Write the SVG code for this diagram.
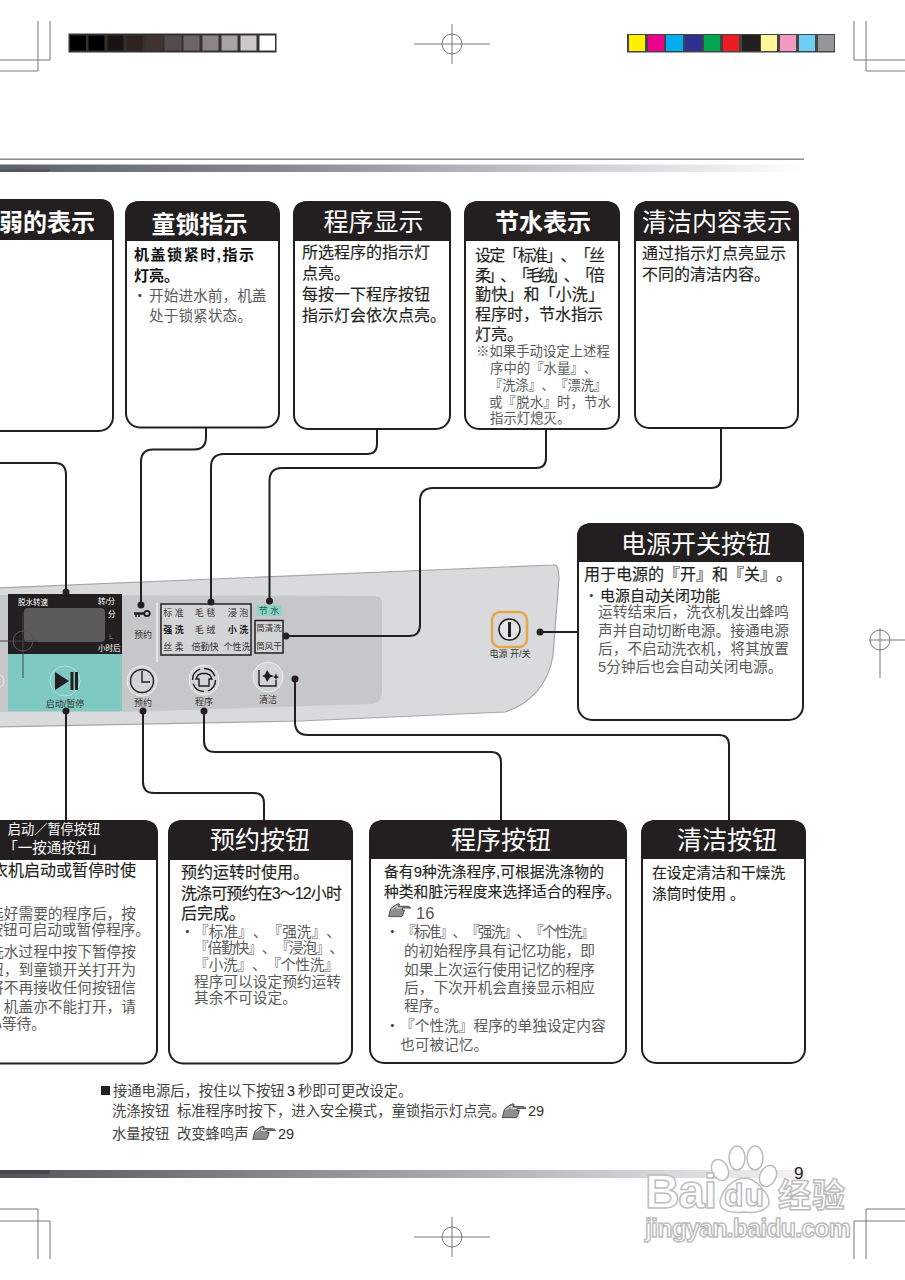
<svg xmlns="http://www.w3.org/2000/svg" width="905" height="1280" viewBox="0 0 905 1280">
<style>
text{font-family:"Liberation Sans","Noto Sans CJK SC",sans-serif;text-spacing-trim:space-all;}
.box{fill:#fff;stroke:#231f20;stroke-width:2}
.hd{fill:#231f20}
.t{fill:#fff;font-size:25px;text-anchor:middle}
.tb{font-weight:700;font-size:24px}
.m{font-size:16px;fill:#231f20;stroke:#231f20;stroke-width:.15}
.mb{font-size:15px;fill:#111;font-weight:700}
.d{font-size:14.7px;fill:#5a5a5a}
.n{font-size:13.4px;fill:#5a5a5a}
.bl{font-size:14.7px;fill:#444}
.e{text-anchor:end}
.mark{fill:none;stroke:#777;stroke-width:1}
.conn{fill:none;stroke:#231f20;stroke-width:2}
.dot{fill:#231f20}
.p{font-size:9px;fill:#333;text-anchor:middle}
.pw{font-size:7.5px;fill:#fff}
.btn{fill:#d3d4d6;stroke:#eef0f0;stroke-width:1}
.ic{fill:none;stroke:#231f20;stroke-width:1.4}
.foot{font-size:14.3px;fill:#444}
.num{font-size:14.5px;fill:#333}
.wm{fill:#fff;stroke:#bdbdbd;stroke-width:1.5}
</style>
<defs>
<linearGradient id="gTop" x1="0" x2="1" y1="0" y2="0"><stop offset="0" stop-color="#5d6268"/><stop offset=".35" stop-color="#868a90"/><stop offset=".7" stop-color="#c9cbce"/><stop offset="1" stop-color="#fff"/></linearGradient>
<linearGradient id="gBot" x1="0" x2="1" y1="0" y2="0"><stop offset="0" stop-color="#50565a"/><stop offset=".35" stop-color="#858a8f"/><stop offset=".7" stop-color="#bfc2c6"/><stop offset="1" stop-color="#f4f4f5"/></linearGradient>
<symbol id="hand" viewBox="0 0 30 18" overflow="visible">
<path d="M1 17.500L3.500 7.500L10 2.500L14 .8L15.500 2.500L13.500 4.200H25Q28.500 4.500 29.500 6.500H19L18.500 9H21.500L20.500 12L19.500 15L18 17.500Z" fill="#8e8e8e" stroke="#333" stroke-width="1"/>
<path d="M4.500 8.500L11 4H13L11.500 6.500H18" fill="none" stroke="#eee" stroke-width="1"/>
</symbol>
</defs>
<rect width="905" height="1280" fill="#fff"/>

<g id="print-marks">
<path class="mark" d="M38 21V71H0M50 21V60H0M854 21V60H905M866 21V71H905M38 1259V1209H0M50 1259V1221H0M866 1259V1209H905M854 1259V1221H905"/>
<path class="mark" d="M414 44H490M452 24V64M414 1237H490M452 1217V1257"/>
<circle class="mark" cx="452" cy="44" r="10"/><circle class="mark" cx="452" cy="1237" r="10"/>
<g stroke="#333" stroke-width="1"><rect x="69" y="34" width="207" height="18" fill="#333"/>
<rect x="69.500" y="35" width="17" height="16" fill="#000"/><rect x="88" y="35" width="17" height="16" fill="#000"/><rect x="107" y="35" width="17" height="16" fill="#1a1310"/><rect x="126" y="35" width="17" height="16" fill="#2e2320"/><rect x="145" y="35" width="18" height="16" fill="#3f3432"/><rect x="164" y="35" width="18" height="16" fill="#544c4a"/><rect x="183" y="35" width="17" height="16" fill="#6f6664"/><rect x="202" y="35" width="17" height="16" fill="#8c8583"/><rect x="221" y="35" width="17" height="16" fill="#a9a4a2"/><rect x="240" y="35" width="17" height="16" fill="#cdc9c8"/><rect x="259" y="35" width="16.500" height="16" fill="#fff"/></g>
<rect x="627" y="34" width="208" height="18.500" fill="#444"/>
<rect x="629" y="35" width="16" height="16" fill="#fff200"/><rect x="648" y="35" width="16" height="16" fill="#ec008c"/><rect x="666" y="35" width="17" height="16" fill="#00aeef"/><rect x="685" y="35" width="17" height="16" fill="#2e3192"/><rect x="704" y="35" width="16" height="16" fill="#00a651"/><rect x="723" y="35" width="16" height="16" fill="#ed1c24"/><rect x="742" y="35" width="18" height="16" fill="#231f20"/><rect x="761" y="35" width="16" height="16" fill="#fff799"/><rect x="780" y="35" width="16" height="16" fill="#f49ac1"/><rect x="799" y="35" width="16" height="16" fill="#6dcff6"/><rect x="818" y="35" width="16" height="16" fill="#939598"/>
<rect x="0" y="158.500" width="804" height="1.500" fill="#8a8a8a"/>
<rect x="0" y="164.500" width="805" height="7.500" fill="url(#gTop)"/>
<rect x="0" y="169" width="50" height="3" fill="#55595d"/>
<rect x="0" y="1170" width="805" height="8" fill="url(#gBot)"/>
<rect x="0" y="1170" width="50" height="4" fill="#44494c"/>
</g>

<g id="panel">
<path d="M-5 588L553 565Q557 564.500 558 569L559 578L553 656C548 685 530 704 505 712L300 721L-5 727Z" fill="#d9dadb" stroke="#a5a6a8" stroke-width="1.2"/>
<path d="M0 595L375 596Q382 596 382 603V692Q382 703 372 704L120 712L0 712Z" fill="#c6c7c9"/>
<path d="M157 603V662" stroke="#eef0f0" stroke-width="1.500"/>
<rect x="8" y="594" width="114" height="60" fill="#231f20"/>
<rect x="8" y="654" width="114" height="57" fill="#7fc9c3"/>
<rect x="24" y="608" width="81" height="34" rx="4" fill="#5b5b5c"/>
<text class="pw" x="18" y="604.500">脱水转速</text><text class="pw" x="98" y="604">转/分</text><text class="pw" x="108" y="617">分</text><text class="pw" x="109" y="639" style="fill:#8b8b8b">L</text><text class="pw" x="98" y="651">小时后</text>
<path d="M0 641H38M23 612V678" stroke="#444" stroke-width="1" fill="none"/><circle cx="23" cy="641" r="10" fill="none" stroke="#555" stroke-width="1"/>
<circle cx="-3" cy="681" r="7" fill="none" stroke="#eee" stroke-width="1"/>

<g id="key-icon"><path d="M134 613.500H144" stroke="#231f20" stroke-width="2.500"/><path d="M136 614V617M139 614V617" stroke="#231f20" stroke-width="1.500"/><circle cx="147" cy="613.500" r="2.700" fill="none" stroke="#231f20" stroke-width="1.800"/></g>
<text class="p" x="143" y="638">预约</text>

<rect x="161" y="604" width="90" height="51" fill="#d3d4d6" stroke="#231f20" stroke-width="1.500"/>
<g class="prog">
<text class="p" x="173.500" y="616">标 准</text><text class="p" x="205" y="616">毛 毯</text><text class="p" x="238" y="616">浸 泡</text>
<text class="p" x="173.500" y="633" style="font-weight:700;fill:#111">强 洗</text><text class="p" x="205" y="633">毛 绒</text><text class="p" x="238" y="633" style="font-weight:700;fill:#111">小 洗</text>
<text class="p" x="173.500" y="650">丝 柔</text><text class="p" x="205" y="650">倍勤快</text><text class="p" x="237" y="650">个性洗</text>
</g>
<rect x="256.500" y="605" width="25" height="11" rx="1" fill="#8fd3c9"/><text class="p" x="269" y="614" style="fill:#1a5c50">节 水</text>
<rect x="255" y="620.500" width="28" height="32.500" fill="#d3d4d6" stroke="#231f20" stroke-width="1.500"/>
<text class="p" x="269" y="630.500" style="font-size:8.500px">筒清洗</text><text class="p" x="269" y="648.500" style="font-size:8.500px">筒风干</text>

<circle cx="65" cy="681" r="15" fill="#7fc9c3" stroke="#b9e2de" stroke-width="1"/>
<path d="M55 672L69 681L55 690Z" fill="#231f20"/><rect x="70.500" y="672" width="3" height="18" fill="#231f20"/><rect x="75" y="672" width="3" height="18" fill="#231f20"/>
<text class="p" x="65" y="706.500">启动/暂停</text>

<circle class="btn" cx="142" cy="681" r="15"/><circle class="ic" cx="142" cy="681" r="11.500"/><path class="ic" d="M142 671V682H150"/>
<text class="p" x="143" y="705.500">预约</text>
<circle class="btn" cx="204" cy="680" r="15"/><circle class="ic" cx="204" cy="680" r="11.500" stroke-dasharray="14 4"/><path class="ic" d="M198 675L201.500 673.500H206.500L210 675L212 679H209V686H199V679H196Z"/>
<text class="p" x="204" y="704.500">程序</text>
<circle class="btn" cx="268" cy="677" r="15"/><path class="ic" d="M259 670V684Q259 686 261 686H276V680"/><path d="M265 670L268 674.500L272 676L268 677.500L265 682L263 677.500L260 676L263 674.500ZM274 673L275 676L277 677L275 678L274 680L273 678L271 677L273 676Z" fill="#231f20" transform="translate(2 0)"/>
<text class="p" x="268" y="702.500">清洁</text>

<rect x="492" y="612" width="35" height="35" rx="8" fill="#d6d7d9" stroke="#e4a74a" stroke-width="2.500"/>
<circle cx="509.500" cy="629.500" r="10.500" fill="#e4e5e6" stroke="#231f20" stroke-width="1.500"/><rect x="508" y="622" width="3" height="15" fill="#231f20"/>
<text class="p" x="510" y="657">电源 开/关</text>
</g>

<g id="connectors">
<path class="conn" d="M206 428V437Q206 449.500 194 449.500H153Q141 449.500 141 462V605"/>
<path class="conn" d="M377 429V444Q377 454 367 454H224Q211 454 211 467V602"/>
<path class="conn" d="M546 429V458Q546 468 536 468H282Q269.500 468 269.500 481V601"/>
<path class="conn" d="M721 428V478Q721 488 711 488H433Q420 488 420 501V625Q420 636 409 636H286"/>
<path class="conn" d="M-2 463H55Q66 463 66 475V592"/>
<path class="conn" d="M66 711V820"/>
<path class="conn" d="M143 711V782Q143 793 154 793H254Q264 793 264 803V820"/>
<path class="conn" d="M204 711V741Q204 752 215 752H491Q501 752 501 762V820"/>
<path class="conn" d="M295 679V722Q295 735 308 735H719Q729 735 729 745V820"/>
<path class="conn" d="M540 632H578"/>
<g class="dot"><circle cx="66" cy="592" r="3.500"/><circle cx="141" cy="605" r="3.500"/><circle cx="211" cy="602" r="3.500"/><circle cx="269.500" cy="601" r="3.500"/><circle cx="286" cy="636" r="3.500"/><circle cx="295" cy="679" r="3.500"/><circle cx="540" cy="632" r="3.500"/><circle cx="66" cy="711" r="3.500"/><circle cx="143" cy="711" r="3.500"/><circle cx="204" cy="711" r="3.500"/></g>
</g>

<g id="node-weak">
<rect class="box" x="-20" y="200" width="133" height="231" rx="14"/><path class="hd" d="M-20 240V212Q-20 199 -6 199H99Q113 199 113 212V240Z"/>
<text class="t tb e" x="95" y="231" style="text-anchor:end">弱的表示</text>
</g>
<g id="node-childlock">
<rect class="box" x="126" y="202" width="153" height="225.500" rx="14"/><path class="hd" d="M125 241V215Q125 201 140 201H265Q280 201 280 215V241Z"/>
<text class="t tb" x="199.500" y="233">童锁指示</text>
<text class="mb" x="134" y="259.500" textLength="120">机盖锁紧时,指示</text><text class="mb" x="134" y="280.500">灯亮。</text>
<text class="bl" x="132.500" y="300.500">・</text><text class="d" x="149" y="300.500">开始进水前，机盖</text><text class="d" x="149" y="321">处于锁紧状态。</text>
</g>
<g id="node-program-display">
<rect class="box" x="294" y="202" width="156" height="227" rx="14"/><path class="hd" d="M293 241V215Q293 201 308 201H436Q451 201 451 215V241Z"/>
<text class="t" x="373.500" y="231">程序显示</text>
<text class="m" x="302" y="258">所选程序的指示灯</text><text class="m" x="302" y="279">点亮。</text><text class="m" x="302" y="300">每按一下程序按钮</text><text class="m" x="302" y="321">指示灯会依次点亮。</text>
</g>
<g id="node-water-save">
<rect class="box" x="465" y="202" width="154" height="227" rx="14"/><path class="hd" d="M464 241V215Q464 201 479 201H605Q620 201 620 215V241Z"/>
<text class="t tb" x="543" y="231">节水表示</text>
<text class="m" x="475" y="261" textLength="130">设定「标准」、「丝</text><text class="m" x="475" y="281" textLength="130">柔」、「毛绒」、「倍</text><text class="m" x="475" y="300" textLength="129">勤快」和「小洗」</text><text class="m" x="475" y="320">程序时，节水指示</text><text class="m" x="475" y="340">灯亮。</text>
<text class="n" x="476" y="356">※如果手动设定上述程</text><text class="n" x="490" y="373">序中的『水量』、</text><text class="n" x="489" y="390" textLength="118">『洗涤』、『漂洗』</text><text class="n" x="489" y="407" textLength="122">或『脱水』时，节水</text><text class="n" x="490" y="423">指示灯熄灭。</text>
</g>
<g id="node-clean-display">
<rect class="box" x="635" y="202" width="163" height="226" rx="14"/><path class="hd" d="M634 241V215Q634 201 649 201H784Q799 201 799 215V241Z"/>
<text class="t" x="717" y="231">清洁内容表示</text>
<text class="m" x="642" y="259">通过指示灯点亮显示</text><text class="m" x="642" y="280">不同的清洁内容。</text>
</g>
<g id="node-power">
<rect class="box" x="578" y="524" width="225" height="196" rx="14"/><path class="hd" d="M577 562V537Q577 523 592 523H789Q804 523 804 537V562Z"/>
<text class="t" x="696" y="553">电源开关按钮</text>
<text class="m" x="584" y="580">用于电源的『开』和『关』。</text>
<text class="bl" x="584" y="601">・</text><text class="m" x="600" y="601" style="font-size:15px">电源自动关闭功能</text>
<text class="d" x="598" y="617">运转结束后，洗衣机发出蜂鸣</text><text class="d" x="598" y="636">声并自动切断电源。接通电源</text><text class="d" x="598" y="654">后，不启动洗衣机，将其放置</text><text class="d" x="598" y="672">5分钟后也会自动关闭电源。</text>
</g>
<g id="node-start">
<rect class="box" x="-20" y="821" width="177" height="242.500" rx="14"/><path class="hd" d="M-21 860V834Q-21 820 -6 820H143Q158 820 158 834V860Z"/>
<text class="t" x="54" y="834" style="font-size:13.200px">启动／暂停按钮</text><text class="t" x="54" y="853" style="font-size:14.500px">「一按通按钮」</text>
<text class="m e" x="136" y="876">洗衣机启动或暂停时使</text>
<text class="d e" x="136" y="918.500">选好需要的程序后，按</text><text class="d e" x="150" y="934.500">按钮可启动或暂停程序。</text>
<text class="d e" x="136" y="957">洗水过程中按下暂停按</text><text class="d e" x="136" y="974.500">钮，到童锁开关打开为</text><text class="d e" x="136" y="993">将不再接收任何按钮信</text><text class="d e" x="136" y="1012">号，机盖亦不能打开，请</text><text class="d e" x="46" y="1028.500">耐心等待。</text>
</g>
<g id="node-timer">
<rect class="box" x="169" y="821" width="183" height="242.500" rx="14"/><path class="hd" d="M168 860V834Q168 820 183 820H338Q353 820 353 834V860Z"/>
<text class="t" x="260" y="849">预约按钮</text>
<text class="m" x="181" y="877.500">预约运转时使用。</text><text class="m" x="181" y="898.500" textLength="161">洗涤可预约在3～12小时</text><text class="m" x="181" y="919">后完成。</text>
<text class="bl" x="180" y="937">・</text><text class="d" x="194" y="937">『标准』、『强洗』、</text><text class="d" x="194" y="953" textLength="150">『倍勤快』、『浸泡』、</text><text class="d" x="194" y="970" textLength="145">『小洗』、『个性洗』</text><text class="d" x="194" y="987">程序可以设定预约运转</text><text class="d" x="194" y="1003">其余不可设定。</text>
</g>
<g id="node-program">
<rect class="box" x="370" y="821" width="256" height="242" rx="14"/><path class="hd" d="M369 859V834Q369 820 384 820H612Q627 820 627 834V859Z"/>
<text class="t" x="501" y="849">程序按钮</text>
<text class="m" x="384" y="877" textLength="220" style="font-size:14.800px">备有9种洗涤程序,可根据洗涤物的</text><text class="m" x="384" y="897" style="font-size:14.800px">种类和脏污程度来选择适合的程序。</text>
<use href="#hand" x="387" y="903" width="25" height="14"/><text class="num" x="416" y="919" style="fill:#555;font-size:16.500px">16</text>
<text class="bl" x="385" y="937">・</text><text class="d" x="401" y="937" textLength="194">『标准』、『强洗』、『个性洗』</text><text class="d" x="404" y="956">的初始程序具有记忆功能，即</text><text class="d" x="404" y="975">如果上次运行使用记忆的程序</text><text class="d" x="404" y="993">后，下次开机会直接显示相应</text><text class="d" x="404" y="1011">程序。</text>
<text class="bl" x="385" y="1031">・</text><text class="d" x="400" y="1031">『个性洗』程序的单独设定内容</text><text class="d" x="400" y="1050">也可被记忆。</text>
</g>
<g id="node-clean">
<rect class="box" x="642" y="821" width="163" height="242" rx="14"/><path class="hd" d="M641 859V834Q641 820 656 820H791Q806 820 806 834V859Z"/>
<text class="t" x="727" y="849">清洁按钮</text>
<text class="m" x="652" y="878" style="font-size:14.800px">在设定清洁和干燥洗</text><text class="m" x="652" y="899" style="font-size:14.800px">涤筒时使用 。</text>
</g>

<g id="footnotes">
<rect x="101" y="1086" width="9" height="9" fill="#231f20"/>
<text class="foot" x="113" y="1096">接通电源后，按住以下按钮</text><text class="foot" x="287" y="1096" style="fill:#222">3</text><text class="foot" x="298" y="1096">秒即可更改设定。</text>
<text class="foot" x="112" y="1116">洗涤按钮</text><text class="foot" x="177" y="1116">标准程序时按下，进入安全模式，童锁指示灯点亮。</text>
<use href="#hand" x="501" y="1103" width="26" height="15"/><text class="num" x="528" y="1116">29</text>
<text class="foot" x="112" y="1139">水量按钮</text><text class="foot" x="177" y="1139">改变蜂鸣声</text>
<use href="#hand" x="252" y="1125" width="24" height="15"/><text class="num" x="278" y="1139">29</text>
</g>

<g id="watermark">
<g class="wm"><ellipse cx="720" cy="1170" rx="8" ry="11" transform="rotate(-25 720 1170)"/><ellipse cx="737" cy="1158" rx="8" ry="12"/><ellipse cx="755" cy="1158" rx="8" ry="12"/><ellipse cx="768" cy="1176" rx="8" ry="11" transform="rotate(25 768 1176)"/><path d="M722 1208Q716 1200 728 1186Q745 1170 760 1186Q772 1198 768 1206Q760 1214 745 1212Q730 1214 722 1208Z"/></g>
<text class="wm" x="645" y="1208" textLength="72" style="font-size:48px;font-weight:700">Bai</text>
<text class="wm" x="724" y="1206" textLength="40" style="font-size:32px;font-weight:700">du</text>
<text class="wm" x="778" y="1207" textLength="67" style="font-size:33px;font-weight:700">经验</text>
<text class="wm" x="645" y="1237" textLength="206" style="font-size:25px;font-weight:700">jingyan.baidu.com</text>
</g>
<text id="page-number" x="794" y="1179" style="font-size:17px;fill:#222">9</text>

<g id="reg-right"><path class="mark" d="M869 640H905M880 628V678"/><circle class="mark" cx="880" cy="640" r="10"/></g>
</svg>
